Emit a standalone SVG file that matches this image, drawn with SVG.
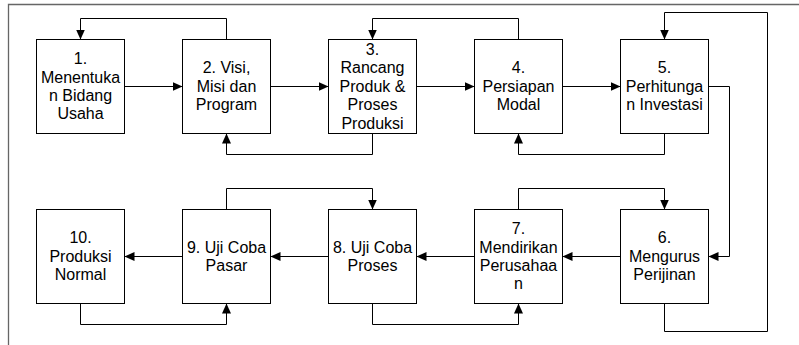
<svg xmlns="http://www.w3.org/2000/svg" width="799" height="345" viewBox="0 0 799 345">
<style>
.box{fill:#fff;stroke:#000;stroke-width:1}
.lbl{font-family:"Liberation Sans",Arial,sans-serif;font-size:16px;fill:#000;text-anchor:middle}
.c{fill:none;stroke:#000;stroke-width:1;marker-end:url(#ah)}
.frame{fill:none;stroke:#666;stroke-width:1.3}
</style>
<defs>
<marker id="ah" markerUnits="userSpaceOnUse" markerWidth="10" markerHeight="9" viewBox="0 0 10 9" refX="10" refY="4.5" orient="auto">
<path d="M0,0 L10,4.5 L0,9 z" fill="#000"/>
</marker>
</defs>
<rect width="799" height="345" fill="#fff"/>
<path class="frame" d="M8.5,345 V4.5 H799"/>
<g id="connectors">
<path class="c" d="M124.5,86.5 H182.5"/>
<path class="c" d="M270.5,86.5 H328.5"/>
<path class="c" d="M416.5,86.5 H474.5"/>
<path class="c" d="M562.5,86.5 H620.5"/>
<path class="c" d="M620.5,256.5 H562.5"/>
<path class="c" d="M474.5,256.5 H416.5"/>
<path class="c" d="M328.5,256.5 H270.5"/>
<path class="c" d="M182.5,256.5 H124.5"/>
<path class="c" d="M226.5,39.5 V18.5 H80.5 V39.5"/>
<path class="c" d="M372.5,133.5 V154.5 H226.5 V133.5"/>
<path class="c" d="M518.5,39.5 V18.5 H372.5 V39.5"/>
<path class="c" d="M664.5,133.5 V154.5 H518.5 V133.5"/>
<path class="c" d="M708.5,86.5 H729.5 V256.5 H708.5"/>
<path class="c" d="M664.5,303.5 V331.5 H767.5 V12.5 H664.5 V39.5"/>
<path class="c" d="M518.5,209.5 V188.5 H664.5 V209.5"/>
<path class="c" d="M372.5,303.5 V324.5 H518.5 V303.5"/>
<path class="c" d="M226.5,209.5 V188.5 H372.5 V209.5"/>
<path class="c" d="M80.5,303.5 V324.5 H226.5 V303.5"/>
</g>
<g id="n1"><rect class="box" x="36.5" y="39.5" width="88" height="94"/>
<text class="lbl"><tspan x="80.5" y="64.2">1.</tspan><tspan x="80.5" y="82.6">Menentuka</tspan><tspan x="80.5" y="101">n Bidang</tspan><tspan x="80.5" y="119.4">Usaha</tspan></text></g>
<g id="n2"><rect class="box" x="182.5" y="39.5" width="88" height="94"/>
<text class="lbl"><tspan x="226.5" y="73.4">2. Visi,</tspan><tspan x="226.5" y="91.8">Misi dan</tspan><tspan x="226.5" y="110.2">Program</tspan></text></g>
<g id="n3"><rect class="box" x="328.5" y="39.5" width="88" height="94"/>
<text class="lbl"><tspan x="372.5" y="55">3.</tspan><tspan x="372.5" y="73.4">Rancang</tspan><tspan x="372.5" y="91.8">Produk &amp;</tspan><tspan x="372.5" y="110.2">Proses</tspan><tspan x="372.5" y="128.6">Produksi</tspan></text></g>
<g id="n4"><rect class="box" x="474.5" y="39.5" width="88" height="94"/>
<text class="lbl"><tspan x="518.5" y="73.4">4.</tspan><tspan x="518.5" y="91.8">Persiapan</tspan><tspan x="518.5" y="110.2">Modal</tspan></text></g>
<g id="n5"><rect class="box" x="620.5" y="39.5" width="88" height="94"/>
<text class="lbl"><tspan x="664.5" y="73.4">5.</tspan><tspan x="664.5" y="91.8">Perhitunga</tspan><tspan x="664.5" y="110.2">n Investasi</tspan></text></g>
<g id="n6"><rect class="box" x="620.5" y="209.5" width="88" height="94"/>
<text class="lbl"><tspan x="664.5" y="243.4">6.</tspan><tspan x="664.5" y="261.8">Mengurus</tspan><tspan x="664.5" y="280.2">Perijinan</tspan></text></g>
<g id="n7"><rect class="box" x="474.5" y="209.5" width="88" height="94"/>
<text class="lbl"><tspan x="518.5" y="234.2">7.</tspan><tspan x="518.5" y="252.6">Mendirikan</tspan><tspan x="518.5" y="271">Perusahaa</tspan><tspan x="518.5" y="289.4">n</tspan></text></g>
<g id="n8"><rect class="box" x="328.5" y="209.5" width="88" height="94"/>
<text class="lbl"><tspan x="372.5" y="252.6">8. Uji Coba</tspan><tspan x="372.5" y="271">Proses</tspan></text></g>
<g id="n9"><rect class="box" x="182.5" y="209.5" width="88" height="94"/>
<text class="lbl"><tspan x="226.5" y="252.6">9. Uji Coba</tspan><tspan x="226.5" y="271">Pasar</tspan></text></g>
<g id="n10"><rect class="box" x="36.5" y="209.5" width="88" height="94"/>
<text class="lbl"><tspan x="80.5" y="243.4">10.</tspan><tspan x="80.5" y="261.8">Produksi</tspan><tspan x="80.5" y="280.2">Normal</tspan></text></g>
</svg>
